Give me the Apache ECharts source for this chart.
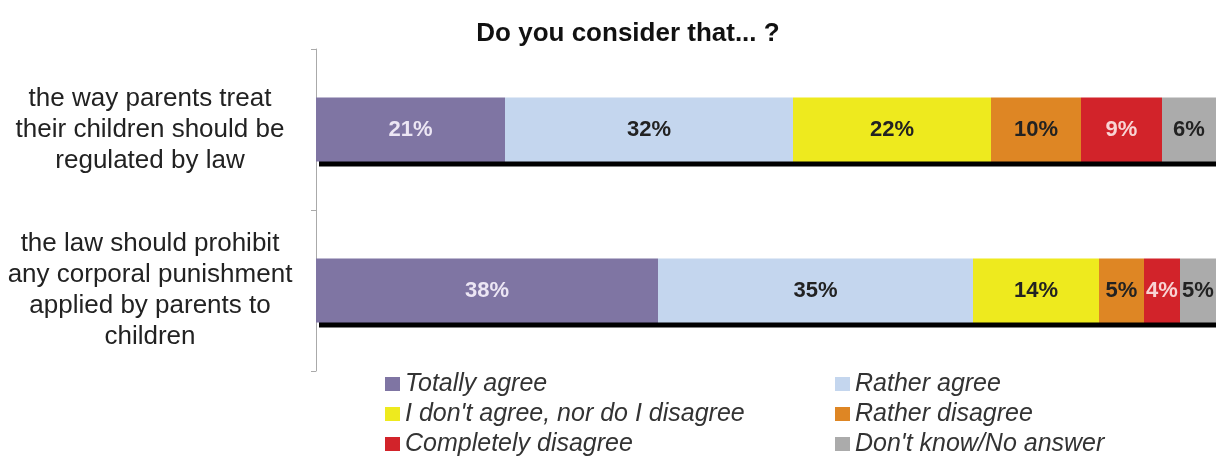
<!DOCTYPE html>
<html>
<head>
<meta charset="utf-8">
<script src="https://cdn.jsdelivr.net/npm/echarts@6/dist/echarts.min.js"></script>
<style>html,body{margin:0;padding:0;background:#fff}#c{width:1216px;height:468px}</style>
</head>
<body>
<div id="c"></div>
<script>
var title = 'Do you consider that... ?';
var categories = [
  'the way parents treat\ntheir children should be\nregulated by law',
  'the law should prohibit\nany corporal punishment\napplied by parents to\nchildren'
];
var seriesNames = ['Totally agree', 'Rather agree', "I don't agree, nor do I disagree", 'Rather disagree', 'Completely disagree', "Don't know/No answer"];
var totallyAgree = [21, 38];
var ratherAgree = [32, 35];
var neither = [22, 14];
var ratherDisagree = [10, 5];
var completelyDisagree = [9, 4];
var dontKnow = [6, 5];
var values = [totallyAgree, ratherAgree, neither, ratherDisagree, completelyDisagree, dontKnow];
var colors = ['#7f75a3', '#c4d6ee', '#eeea1e', '#de8624', '#d2232a', '#ababab'];
var labelColors = ['#ece6f4', '#222', '#222', '#222', '#f8d4d4', '#222'];

var FONT = 'Liberation Sans, Arial, sans-serif';
var chart = echarts.init(document.getElementById('c'));
var series = seriesNames.map(function (n, i) {
  return {
    name: n, type: 'bar', stack: 'all', barWidth: 64,
    data: values[i],
    itemStyle: { color: colors[i], shadowColor: '#000', shadowBlur: 0, shadowOffsetX: 3, shadowOffsetY: 5 },
    label: { show: true, position: 'inside', formatter: '{c}%', color: labelColors[i],
      fontFamily: FONT, fontWeight: 'bold', fontSize: 22 }
  };
});
var catPad = [[8, 0, 0, 0], [0, 0, 0, 0]];
var yData = categories.map(function (c, i) {
  return { value: c, textStyle: { padding: catPad[i], align: 'center', fontSize: 26, lineHeight: 31, color: '#222', fontFamily: FONT } };
});
var legendText = { fontFamily: FONT, fontStyle: 'italic', fontSize: 25, color: '#333', lineHeight: 30, padding: [0, 0, 0, 0] };
chart.setOption({
  animation: false,
  title: { text: title, left: 623, top: 16, textAlign: 'center',
    textStyle: { fontFamily: FONT, fontWeight: 'bold', fontSize: 26, color: '#111' } },
  grid: { left: 316, right: 0, top: 49, bottom: 97, containLabel: false, outerBoundsMode: 'none' },
  xAxis: { type: 'value', min: 0, max: 100, show: false },
  yAxis: { type: 'category', inverse: true, data: yData,
    axisLine: { show: true, lineStyle: { color: '#aaa' } },
    axisTick: { show: true, length: 5, lineStyle: { color: '#aaa' } },
    axisLabel: { align: 'center', margin: 166, lineHeight: 31, fontSize: 26, color: '#222',
      fontFamily: FONT } },
  legend: [
    { orient: 'vertical', left: 385, top: 369, itemGap: 0, itemWidth: 15, itemHeight: 14, icon: 'rect',
      padding: 0, textStyle: legendText, data: [seriesNames[0], seriesNames[2], seriesNames[4]] },
    { orient: 'vertical', left: 835, top: 369, itemGap: 0, itemWidth: 15, itemHeight: 14, icon: 'rect',
      padding: 0, textStyle: legendText, data: [seriesNames[1], seriesNames[3], seriesNames[5]] }
  ],
  series: series
});
</script>
</body>
</html>
